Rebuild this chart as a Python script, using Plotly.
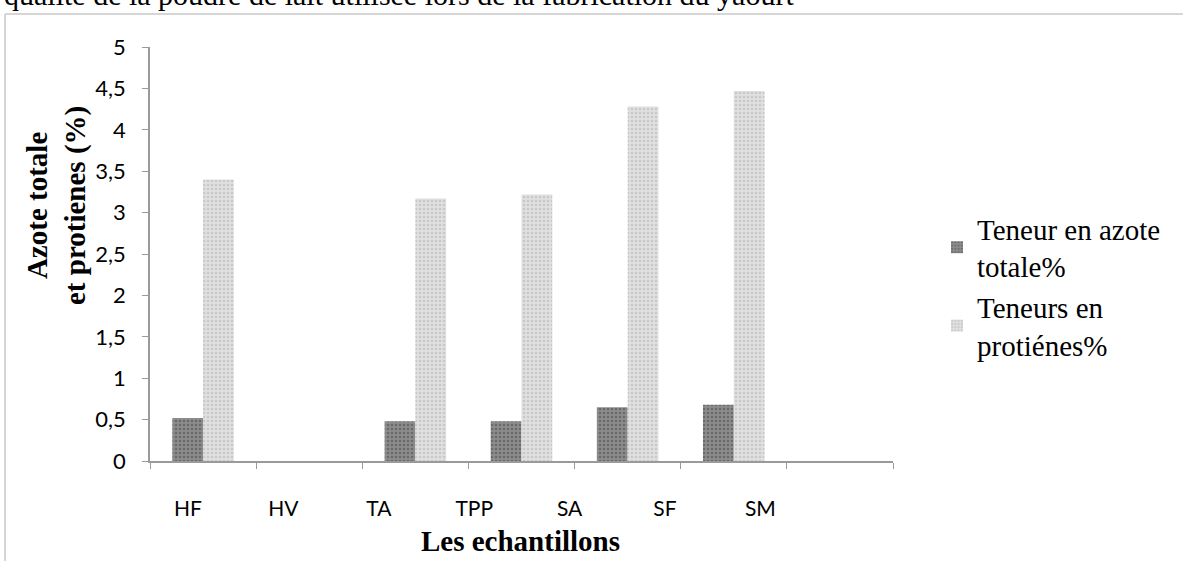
import plotly.graph_objects as go

# Samples and measured contents (%)
categories = ["HF", "HV", "TA", "TPP", "SA", "SF", "SM"]
azote_totale = [0.52, None, 0.48, 0.48, 0.65, 0.68, None]
proteines = [3.40, None, 3.17, 3.22, 4.28, 4.47, None]
y_ticks = [0, 0.5, 1, 1.5, 2, 2.5, 3, 3.5, 4, 4.5, 5]
y_tick_text = ["0", "0,5", "1", "1,5", "2", "2,5", "3", "3,5", "4", "4,5", "5"]

W, H = 1183, 561
L, R, T, B = 150, 893, 47, 461  # plot area in pixels
pw, ph = R - L, B - T

serif = "Liberation Serif, Times New Roman, serif"
sans = "Lato, Open Sans, sans-serif"

fig = go.Figure()
fig.add_trace(go.Bar(
    x=categories, y=azote_totale, name="Teneur en azote<br>totale%",
    marker=dict(color="#7e7e7e", line=dict(width=0),
                pattern=dict(shape=".", fgcolor="#474747", bgcolor="#8c8c8c",
                             size=4, solidity=0.35)),
))
fig.add_trace(go.Bar(
    x=categories, y=proteines, name="Teneurs en<br>protiénes%",
    marker=dict(color="#d6d6d6", line=dict(width=0),
                pattern=dict(shape=".", fgcolor="#b0b0b0", bgcolor="#e0e0e0",
                             size=4, solidity=0.35)),
))
# category labels on their own axis
fig.add_trace(go.Scatter(x=list(range(len(categories))), y=[0] * len(categories),
                         xaxis="x2", mode="markers", marker=dict(opacity=0),
                         showlegend=False, hoverinfo="skip"))

px_per_cat = 95.4
r0 = -(188 - L) / px_per_cat
r1 = r0 + pw / px_per_cat

fig.update_layout(
    width=W, height=H,
    margin=dict(l=L, r=W - R, t=T, b=H - B, autoexpand=False),
    paper_bgcolor="white", plot_bgcolor="white",
    barmode="group", bargap=0.42, bargroupgap=0,
    xaxis=dict(type="category", categoryorder="array", categoryarray=categories,
               showticklabels=False, showline=True, linecolor="#9a9a9a", linewidth=1.5,
               ticks="outside", tickson="boundaries", ticklen=6, tickcolor="#9a9a9a",
               showgrid=False, zeroline=False),
    xaxis2=dict(overlaying="x", anchor="y", side="bottom", range=[r0, r1],
                tickvals=list(range(len(categories))), ticktext=categories,
                showline=False, showgrid=False, zeroline=False, ticks="",
                ticklabelstandoff=33, tickfont=dict(family=sans, size=21, color="black")),
    yaxis=dict(range=[0, 5], tickvals=y_ticks, ticktext=y_tick_text,
               showline=True, linecolor="#9a9a9a", linewidth=1.5,
               ticks="outside", ticklen=6, tickcolor="#9a9a9a",
               ticklabelstandoff=12, showgrid=False, zeroline=False,
               tickfont=dict(family=sans, size=22, color="black")),
    legend=dict(x=(937 - L) / pw, y=(B - 203) / ph, xanchor="left", yanchor="top",
                font=dict(family=serif, size=29, color="black"),
                bgcolor="rgba(0,0,0,0)", tracegroupgap=0, itemwidth=30),
    showlegend=True,
)

fig.add_annotation(text="<b>Azote totale<br>et protienes (%)</b>", textangle=-90,
                   xref="paper", yref="paper", x=(56 - L) / pw, y=(B - 205) / ph,
                   xanchor="center", yanchor="middle",
                   showarrow=False, font=dict(family=serif, size=29, color="black"),
                   align="center")
fig.add_annotation(text="<b>Les echantillons</b>",
                   xref="paper", yref="paper", x=(520 - L) / pw, y=(B - 541) / ph,
                   xanchor="center", yanchor="middle", showarrow=False,
                   font=dict(family=serif, size=29, color="black"))
fig.add_annotation(text="qualité de la poudre de lait utilisée lors de la fabrication du yaourt",
                   xref="paper", yref="paper", x=(2 - L) / pw, y=(B + 6) / ph,
                   xanchor="left", yanchor="middle", showarrow=False,
                   font=dict(family=serif, size=30, color="black"))

# page frame around the chart
fig.add_shape(type="line", xref="paper", yref="paper",
              x0=(5 - L) / pw, x1=(W - L) / pw, y0=(B - 14) / ph, y1=(B - 14) / ph,
              line=dict(color="#c8c8c8", width=1.5))
fig.add_shape(type="line", xref="paper", yref="paper",
              x0=(5 - L) / pw, x1=(5 - L) / pw, y0=(B - 14) / ph, y1=(B - H) / ph,
              line=dict(color="#c8c8c8", width=1.5))

fig.write_html("out.html")
